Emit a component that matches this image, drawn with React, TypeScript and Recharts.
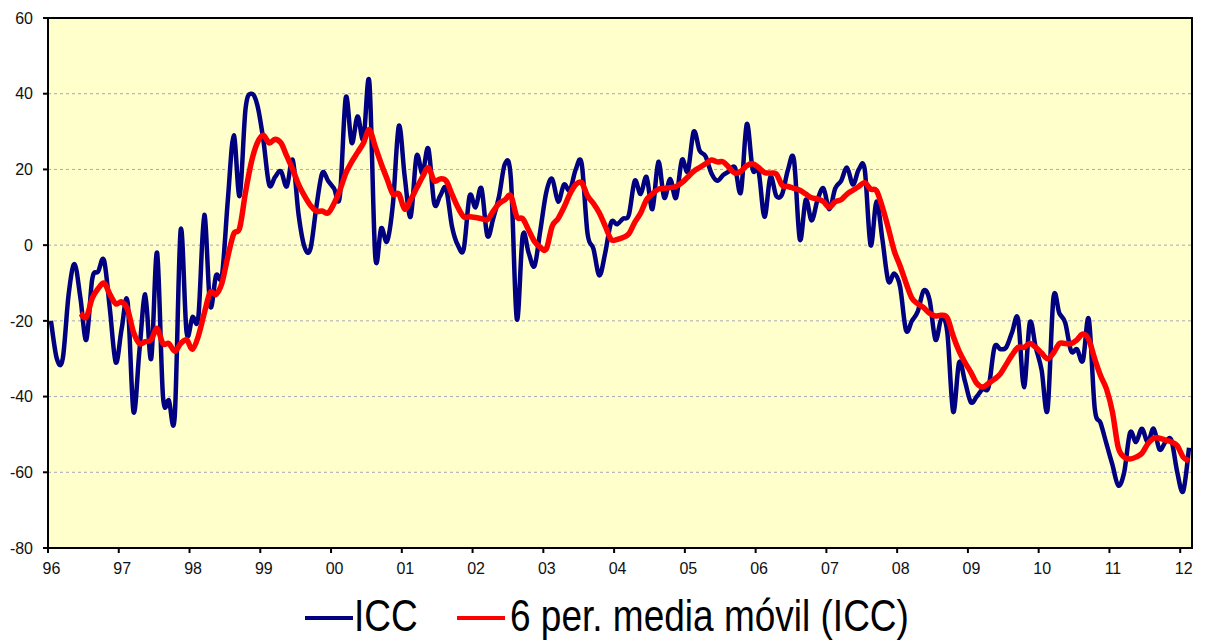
import { LineChart, Line, XAxis, YAxis, CartesianGrid, ReferenceArea } from "recharts";

// Indicador de Confianza del Consumidor, monthly from Jan 1996 to Feb 2012
const yearLabels = ["96", "97", "98", "99", "00", "01", "02", "03", "04", "05", "06", "07", "08", "09", "10", "11", "12"];

const icc = [
  -20, -30, -30, -13, -5, -14, -25, -9, -7, -4, -17, -31,
  -22, -15, -44, -28, -13, -30, -2, -40, -41, -45, 4, -23,
  -19, -19, 8, -16, -8, -8, 12, 29, 13, 36, 40, 37,
  28, 16, 18, 19.5, 15.5, 22.5, 8, -0.5, -1, 10, 19, 17,
  15, 13, 39, 27, 34, 28, 43, -3, 4.5, 1, 11, 31.5,
  18, 7.5, 23.5, 19, 25.5, 11, 13, 15, 5, 0, -1, 13,
  10, 15, 2.5, 7, 13, 21.5, 17.5, -19.5, 2.5, -2, -5.5, 4,
  14, 17.5, 11.5, 16, 14.5, 20, 21.5, 3, -1, -8, -2, 6,
  5.5, 7, 8, 17, 13.5, 18, 9.5, 22, 12.5, 17.5, 12.5, 22.5,
  19.5, 30, 25, 23.5, 19, 17, 18.5, 19.5, 20.5, 14, 32, 20,
  19.5, 7.5, 18, 13, 13.5, 20, 22.5, 1.5, 12, 6.5, 12, 15,
  9.5, 15, 17, 20.5, 16, 20, 20, 0, 11.5, 1.5, -9.5, -7.5,
  -11, -22.5, -20, -17.5, -12, -14.5, -25, -19.5, -23, -44, -31, -36,
  -41.5, -40, -38, -37.5, -27, -27.5, -27, -23, -19.5, -37.5, -20.5, -27,
  -33, -43.5, -14, -18, -20.5, -28, -27.5, -30.5, -19.5, -43, -47, -52.5,
  -58, -63.5, -60, -49.5, -52, -48.5, -52, -48.5, -54, -52, -51.5, -60,
  -65, -53.5,
];

// 6 per. media móvil, first value at Jun 1996
const maStart = 5;
const icc6 = [
  -18, -19, -14, -11.5, -10, -13, -15.5,
  -15, -17, -23, -26, -25.5, -25, -22, -26, -26, -28, -26, -25,
  -27.5, -24, -18, -12.5, -13, -10, -3, 3, 4.5, 14, 22, 27,
  29, 27, 28, 27, 23.5, 20, 16, 13, 10.5, 9, 9, 8.5,
  11, 14.5, 19, 22, 24.5, 27, 30.5, 26, 21.5, 17.5, 13.5, 13.5,
  9.5, 12, 15, 18, 20.5, 17, 17.5, 17, 13.5, 10, 7.5, 7.5,
  7.3, 7, 6.7, 9, 11, 12, 13, 7.5, 7, 4, 1, -0.6,
  -1, 5, 7, 10, 13.5, 16, 16.5, 13, 11, 8.5, 5, 1.5,
  1.5, 2, 3, 6, 8.5, 12, 13.5, 14.8, 15, 15.2, 15.5, 16.5,
  18, 19.5, 20.5, 21.5, 22.5, 22, 22, 20.5, 19, 19.5, 21, 21.5,
  20.5, 19.2, 19, 18.8, 15.8, 15.5, 15, 14.5, 13.5, 12.5, 12.2, 11.5,
  10, 11.5, 12, 13.5, 14.5, 15.5, 16.5, 14.8, 14.4, 10, 4.5, -1.5,
  -5.5, -10, -14, -15.5, -16.5, -18, -18.7, -18.5, -19.2, -24, -28, -31,
  -33.6, -36.5, -37.5, -36.5, -35.4, -34, -31.5, -29, -27, -27, -26, -27,
  -28.5, -30, -28.5, -26, -26, -26, -25, -23.5, -25, -30, -34.5, -38,
  -44, -53.5, -56, -56.5, -56, -55, -52.5, -51, -51, -51.5, -52, -53,
  -56, -57,
];

const yTicks = [60, 40, 20, 0, -20, -40, -60, -80];
const xTicks = yearLabels.map((_, k) => k * 12);

const data = icc.map((v, i) => ({
  t: i + 0.5,
  icc: v,
  ma: i >= maStart ? icc6[i - maStart] : null,
}));

const FONT = "'Liberation Sans', Arial, sans-serif";

// Excel style smoothed line (Catmull-Rom through every point)
function excelSmooth(context: any) {
  let pts: number[][] = [];
  return {
    areaStart() {},
    areaEnd() {},
    lineStart() {
      pts = [];
    },
    point(x: number, y: number) {
      pts.push([+x, +y]);
    },
    lineEnd() {
      if (!pts.length) return;
      context.moveTo(pts[0][0], pts[0][1]);
      for (let i = 0; i < pts.length - 1; i++) {
        const p0 = pts[i - 1] || pts[i];
        const p1 = pts[i];
        const p2 = pts[i + 1];
        const p3 = pts[i + 2] || p2;
        context.bezierCurveTo(
          p1[0] + (p2[0] - p0[0]) / 6,
          p1[1] + (p2[1] - p0[1]) / 6,
          p2[0] - (p3[0] - p1[0]) / 6,
          p2[1] - (p3[1] - p1[1]) / 6,
          p2[0],
          p2[1]
        );
      }
    },
  };
}

const XTick = ({ x, y, payload }: any) => (
  <text x={x + 3.5} y={y} dy="0.71em" textAnchor="middle" fontSize={16} fontFamily={FONT} fill="#111">
    {yearLabels[Math.round(payload.value / 12)]}
  </text>
);

const YTick = ({ x, y, payload }: any) => (
  <text x={x} y={y} dy="0.36em" textAnchor="end" fontSize={16} fontFamily={FONT} fill="#111">
    {payload.value}
  </text>
);

function LegendItem({ left, textLeft, color, label }: { left: number; textLeft: number; color: string; label: string }) {
  return (
    <>
      <div style={{ position: "absolute", left, top: 616, width: 48, height: 4, background: color }} />
      <span
        style={{
          position: "absolute",
          left: textLeft,
          top: 598,
          fontSize: 37,
          lineHeight: 1,
          fontFamily: FONT,
          color: "#000",
          whiteSpace: "nowrap",
          transform: "scaleY(1.18)",
          transformOrigin: "50% 18px",
        }}
      >
        {label}
      </span>
    </>
  );
}

export default function App() {
  return (
    <div style={{ position: "absolute", left: 0, top: 0, width: 1205, height: 642, background: "#fff", overflow: "hidden" }}>
      <LineChart width={1205} height={642} data={data} margin={{ top: 18, right: 13, left: 0, bottom: 64 }}>
        <CartesianGrid horizontal vertical={false} fill="#FFFFCC" stroke="#a8a8b8" strokeDasharray="3 3" />
        <XAxis
          type="number"
          dataKey="t"
          domain={[0, 194]}
          ticks={xTicks}
          interval={0}
          height={30}
          tick={<XTick />}
          tickSize={5}
          tickMargin={10}
          axisLine={{ stroke: "#000", strokeWidth: 2 }}
          tickLine={{ stroke: "#000", strokeWidth: 2 }}
        />
        <YAxis
          type="number"
          domain={[-80, 60]}
          ticks={yTicks}
          interval={0}
          width={48}
          tick={<YTick />}
          tickSize={5}
          tickMargin={10}
          axisLine={{ stroke: "#000", strokeWidth: 2 }}
          tickLine={{ stroke: "#000", strokeWidth: 2 }}
        />
        <ReferenceArea x1={0} x2={194} y1={-80} y2={60} fill="none" stroke="#000" strokeWidth={2} ifOverflow="visible" />
        <Line
          type={excelSmooth as any}
          dataKey="icc"
          stroke="#000080"
          strokeWidth={4.5}
          dot={false}
          activeDot={false}
          isAnimationActive={false}
          strokeLinejoin="round"
        />
        <Line
          type={excelSmooth as any}
          dataKey="ma"
          stroke="#FF0000"
          strokeWidth={5.5}
          dot={false}
          activeDot={false}
          isAnimationActive={false}
          strokeLinejoin="round"
        />
      </LineChart>
      <LegendItem left={305} textLeft={354} color="#000080" label="ICC" />
      <LegendItem left={457} textLeft={510} color="#FF0000" label="6 per. media móvil (ICC)" />
    </div>
  );
}
